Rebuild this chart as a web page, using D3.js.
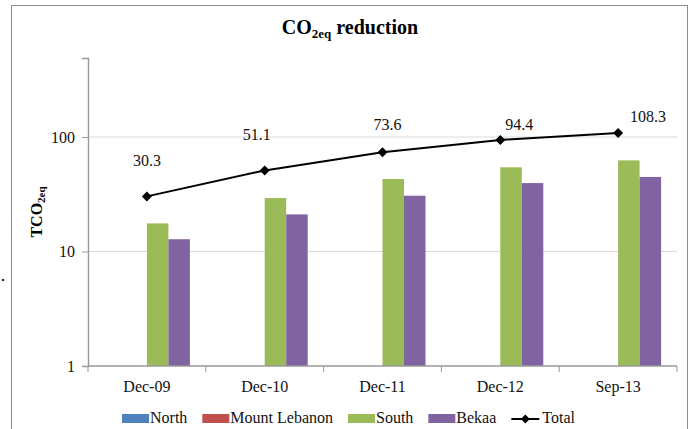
<!DOCTYPE html>
<html>
<head>
<meta charset="utf-8">
<script src="https://cdn.jsdelivr.net/npm/d3@7"></script>
<style>
  body { margin: 0; background: #fff; }
</style>
</head>
<body>
<div id="chart"></div>
<script>
// data
const categories = ["Dec-09", "Dec-10", "Dec-11", "Dec-12", "Sep-13"];
const seriesNames = ["North", "Mount Lebanon", "South", "Bekaa"];
const north = [0, 0, 0, 0, 0];
const mountLebanon = [0, 0, 0, 0, 0];
const south = [17.6, 29.3, 43.0, 54.4, 62.5];
const bekaa = [12.8, 21.1, 30.7, 39.6, 44.8];
const total = [30.3, 51.1, 73.6, 94.4, 108.3];
const yTicks = [1, 10, 100];

const colors = ["#4F81BD", "#C0504D", "#9BBB59", "#8064A2"];
// manual nudges of the total labels, like the original
const labelNudge = [[0, -30], [-8, -30], [5, -22], [19, -10], [30, -11]];

const FONT = "Liberation Serif";
const W = 693, H = 429;
const margin = { top: 58, right: 16, bottom: 63, left: 88 };

const svg = d3.select("#chart").append("svg")
    .attr("width", W)
    .attr("height", H)
    .attr("font-family", FONT);

// outer chart border
svg.append("rect")
    .attr("x", 11.5).attr("y", 5.5)
    .attr("width", 676).attr("height", 440)
    .attr("fill", "none")
    .attr("stroke", "#8c8c8c");

// stray dot left of the border
svg.append("circle").attr("cx", 3).attr("cy", 280).attr("r", 1.2).attr("fill", "#222");

const x0 = d3.scaleBand()
    .domain(categories)
    .range([margin.left, W - margin.right]);

const x1 = d3.scaleBand()
    .domain(seriesNames)
    .range([x0.bandwidth() * 0.135, x0.bandwidth() * 0.865]);

const y = d3.scaleLog()
    .domain([1, 490])
    .range([H - margin.bottom, margin.top]);

const plotRight = W - margin.right;

// gridlines
svg.append("g")
    .selectAll("line")
    .data(yTicks.slice(1))
    .join("line")
    .attr("x1", margin.left).attr("x2", plotRight)
    .attr("y1", d => y(d)).attr("y2", d => y(d))
    .attr("stroke", "#dcdcdc")
    .attr("stroke-width", 1.2);

// bars
const values = [north, mountLebanon, south, bekaa];
const barData = [];
categories.forEach((c, i) => {
    seriesNames.forEach((s, j) => {
        if (values[j][i] > 0) barData.push({ cat: c, series: s, value: values[j][i], color: colors[j] });
    });
});

svg.append("g")
    .selectAll("rect")
    .data(barData)
    .join("rect")
    .attr("x", d => x0(d.cat) + x1(d.series))
    .attr("width", x1.bandwidth())
    .attr("y", d => y(d.value))
    .attr("height", d => y(1) - y(d.value))
    .attr("fill", d => d.color);

// y axis
const yAxis = svg.append("g")
    .attr("transform", `translate(${margin.left},0)`)
    .call(d3.axisLeft(y).tickValues(yTicks).tickFormat(d3.format("d")).tickSize(6).tickPadding(7));
yAxis.attr("font-family", FONT).attr("font-size", 16);
yAxis.select(".domain").attr("stroke", "#999").attr("stroke-width", 1.4);
yAxis.selectAll(".tick line").attr("stroke", "#999");
yAxis.selectAll("text").attr("fill", "#111");

// x axis with ticks at category boundaries
const xAxisG = svg.append("g").attr("transform", `translate(0,${y(1)})`);
xAxisG.append("line")
    .attr("x1", margin.left).attr("x2", plotRight)
    .attr("stroke", "#999").attr("stroke-width", 1.4);
const bounds = categories.map(c => x0(c)).concat([plotRight]);
xAxisG.selectAll("line.tk")
    .data(bounds)
    .join("line")
    .attr("class", "tk")
    .attr("x1", d => d).attr("x2", d => d)
    .attr("y1", 0).attr("y2", 6)
    .attr("stroke", "#999");
xAxisG.selectAll("text")
    .data(categories)
    .join("text")
    .attr("x", d => x0(d) + x0.bandwidth() / 2)
    .attr("y", 26)
    .attr("text-anchor", "middle")
    .attr("font-size", 16)
    .attr("fill", "#111")
    .text(d => d);

// total line
const cx = c => x0(c) + x0.bandwidth() / 2;
const line = d3.line()
    .x((d, i) => cx(categories[i]))
    .y(d => y(d));

svg.append("path")
    .datum(total)
    .attr("d", line)
    .attr("fill", "none")
    .attr("stroke", "#000")
    .attr("stroke-width", 2);

svg.append("g")
    .selectAll("path")
    .data(total)
    .join("path")
    .attr("d", d3.symbol().type(d3.symbolSquare).size(50))
    .attr("transform", (d, i) => `translate(${cx(categories[i])},${y(d)}) rotate(45)`)
    .attr("fill", "#000");

svg.append("g")
    .selectAll("text")
    .data(total)
    .join("text")
    .attr("x", (d, i) => cx(categories[i]) + labelNudge[i][0])
    .attr("y", (d, i) => y(d) + labelNudge[i][1])
    .attr("text-anchor", "middle")
    .attr("font-size", 16)
    .attr("fill", "#111")
    .text(d => d.toFixed(1));

// title
const title = svg.append("text")
    .attr("x", 350).attr("y", 34)
    .attr("text-anchor", "middle")
    .attr("font-size", 20)
    .attr("font-weight", "bold")
    .attr("fill", "#000");
title.append("tspan").text("CO");
title.append("tspan").attr("font-size", 13).attr("dy", 4).text("2eq");
title.append("tspan").attr("dy", -4).text(" reduction");

// y axis title
const yt = svg.append("text")
    .attr("transform", `translate(42,${(margin.top + y(1)) / 2}) rotate(-90)`)
    .attr("text-anchor", "middle")
    .attr("font-size", 16)
    .attr("font-weight", "bold")
    .attr("fill", "#000");
yt.append("tspan").text("TCO");
yt.append("tspan").attr("font-size", 11).attr("dy", 3).text("2eq");

// legend
const legend = svg.append("g").attr("transform", "translate(122,414)");
let lx = 0;
seriesNames.forEach((s, j) => {
    legend.append("rect")
        .attr("x", lx).attr("y", 0)
        .attr("width", 27).attr("height", 9)
        .attr("fill", colors[j]);
    const t = legend.append("text")
        .attr("x", lx + 28).attr("y", 9)
        .attr("font-size", 16)
        .attr("fill", "#111")
        .text(s);
    lx += 28 + t.node().getComputedTextLength() + 15;
});
legend.append("line")
    .attr("x1", lx).attr("x2", lx + 28)
    .attr("y1", 5).attr("y2", 5)
    .attr("stroke", "#000").attr("stroke-width", 2);
legend.append("path")
    .attr("d", d3.symbol().type(d3.symbolSquare).size(40))
    .attr("transform", `translate(${lx + 14},5) rotate(45)`)
    .attr("fill", "#000");
legend.append("text")
    .attr("x", lx + 31).attr("y", 9)
    .attr("font-size", 16)
    .attr("fill", "#111")
    .text("Total");
</script>
</body>
</html>
